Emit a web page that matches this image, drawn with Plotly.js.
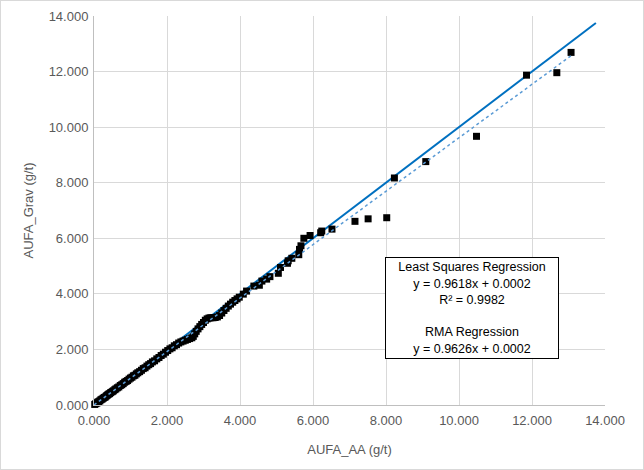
<!DOCTYPE html>
<html>
<head>
<meta charset="utf-8">
<script src="https://cdn.plot.ly/plotly-3.0.1.min.js"></script>
<style>
html,body{margin:0;padding:0;background:#fff;}
#wrap{width:642px;height:468px;border:1px solid #d9d9d9;}
#chart{width:642px;height:468px;}
</style>
</head>
<body>
<div id="wrap"><div id="chart"></div></div>
<script>
// AUFA_AA (g/t) values
const aufaAA = [
 0.02,0.05,0.08,0.10,0.13,0.16,0.19,0.22,0.25,0.28,0.31,0.34,0.37,0.40,0.43,0.46,0.50,0.53,0.57,0.60,
 0.64,0.68,0.72,0.76,0.80,0.84,0.88,0.92,0.96,1.00,1.04,1.08,1.12,1.16,1.20,1.25,1.30,1.35,1.40,1.45,
 1.50,1.55,1.60,1.66,1.72,1.78,1.84,1.90,1.96,2.02,2.08,2.14,2.20,2.26,2.32,2.38,2.44,2.50,2.56,2.62,
 2.68,2.72,2.76,2.80,2.85,2.90,2.95,3.00,3.05,3.10,3.15,3.20,3.26,3.32,3.38,3.44,3.50,3.56,3.62,3.68,
 3.74,3.80,3.86,3.92,3.98,4.09,4.18,4.38,4.53,4.60,4.73,4.82,5.05,5.11,5.30,5.32,5.42,5.61,5.63,5.67,
 5.75,5.92,6.21,6.24,6.52,7.15,7.51,8.02,8.23,9.09,10.48,11.85,12.68,13.07
];
// AUFA_Grav (g/t) values
const aufaGrav = [
 0.02,0.05,0.07,0.10,0.12,0.15,0.19,0.21,0.24,0.27,0.29,0.33,0.36,0.39,0.41,0.45,0.48,0.51,0.55,0.58,
 0.62,0.65,0.70,0.73,0.77,0.82,0.85,0.88,0.93,0.97,1.00,1.05,1.07,1.12,1.16,1.20,1.25,1.31,1.34,1.40,
 1.45,1.49,1.55,1.59,1.66,1.71,1.78,1.83,1.90,1.96,2.02,2.06,2.13,2.17,2.23,2.27,2.30,2.33,2.36,2.39,
 2.42,2.47,2.56,2.65,2.74,2.82,2.90,2.97,3.05,3.10,3.13,3.14,3.14,3.15,3.17,3.22,3.31,3.40,3.48,3.56,
 3.63,3.70,3.76,3.82,3.88,3.99,4.10,4.28,4.31,4.46,4.53,4.62,4.74,4.95,5.10,5.19,5.28,5.41,5.60,5.73,
 6.00,6.10,6.20,6.26,6.33,6.61,6.70,6.74,8.17,8.76,9.67,11.87,11.96,12.69
];
const oneToOneX = [0, 13.75];
const lsqSlope = 0.9618, lsqIntercept = 0.0002, lsqR2 = 0.9982;
const rmaSlope = 0.9626, rmaIntercept = 0.0002;
const xTicks = [0,2,4,6,8,10,12,14];
const yTicks = [0,2,4,6,8,10,12,14];

const fam = '"Liberation Sans", Arial, sans-serif';
const xMax = Math.max(...aufaAA);
const trendX = [0, xMax];
const trendY = trendX.map(v => lsqSlope * v + lsqIntercept);

const traces = [
 {x: oneToOneX, y: oneToOneX, mode: 'lines', line: {color: '#0070C0', width: 2}, hoverinfo: 'skip'},
 {x: aufaAA, y: aufaGrav, mode: 'markers', cliponaxis: false,
  marker: {symbol: 'square', size: 7, color: '#000000'}},
 {x: trendX, y: trendY, mode: 'lines', line: {color: '#5B9BD5', width: 1.5, dash: 'dot'}, hoverinfo: 'skip'}
];

const boxText = 'Least Squares Regression<br>y = ' + lsqSlope.toFixed(4) + 'x + ' + lsqIntercept.toFixed(4) +
 '<br>R² = ' + lsqR2.toFixed(4) + '<br> <br>RMA Regression<br>y = ' + rmaSlope.toFixed(4) + 'x + ' + rmaIntercept.toFixed(4);

const axisCommon = {
 range: [0, 14], showgrid: true, gridcolor: '#d9d9d9', gridwidth: 1,
 zeroline: false, showline: true, linecolor: '#bfbfbf', linewidth: 1,
 ticks: '', tickformat: '.3f', tickfont: {family: fam, size: 13, color: '#595959'},
 fixedrange: true
};

const layout = {
 width: 642, height: 468,
 margin: {l: 93, r: 38, t: 15, b: 64},
 paper_bgcolor: '#ffffff', plot_bgcolor: '#ffffff',
 showlegend: false,
 font: {family: fam},
 xaxis: Object.assign({}, axisCommon, {tickvals: xTicks, ticklabelstandoff: 3,
   title: {text: 'AUFA_AA (g/t)', font: {family: fam, size: 13, color: '#595959'}, standoff: 18}}),
 yaxis: Object.assign({}, axisCommon, {tickvals: yTicks, ticklabelstandoff: 2,
   title: {text: 'AUFA_Grav (g/t)', font: {family: fam, size: 13, color: '#595959'}, standoff: 12}}),
 annotations: [{
   x: 10.36, y: 3.49, xref: 'x', yref: 'y', showarrow: false,
   text: boxText, align: 'center',
   font: {family: fam, size: 12.5, color: '#000000'},
   bordercolor: '#000000', borderwidth: 1, bgcolor: '#ffffff',
   width: 170, height: 98, borderpad: 1
 }]
};

Plotly.newPlot('chart', traces, layout, {displayModeBar: false, staticPlot: true});
</script>
</body>
</html>
